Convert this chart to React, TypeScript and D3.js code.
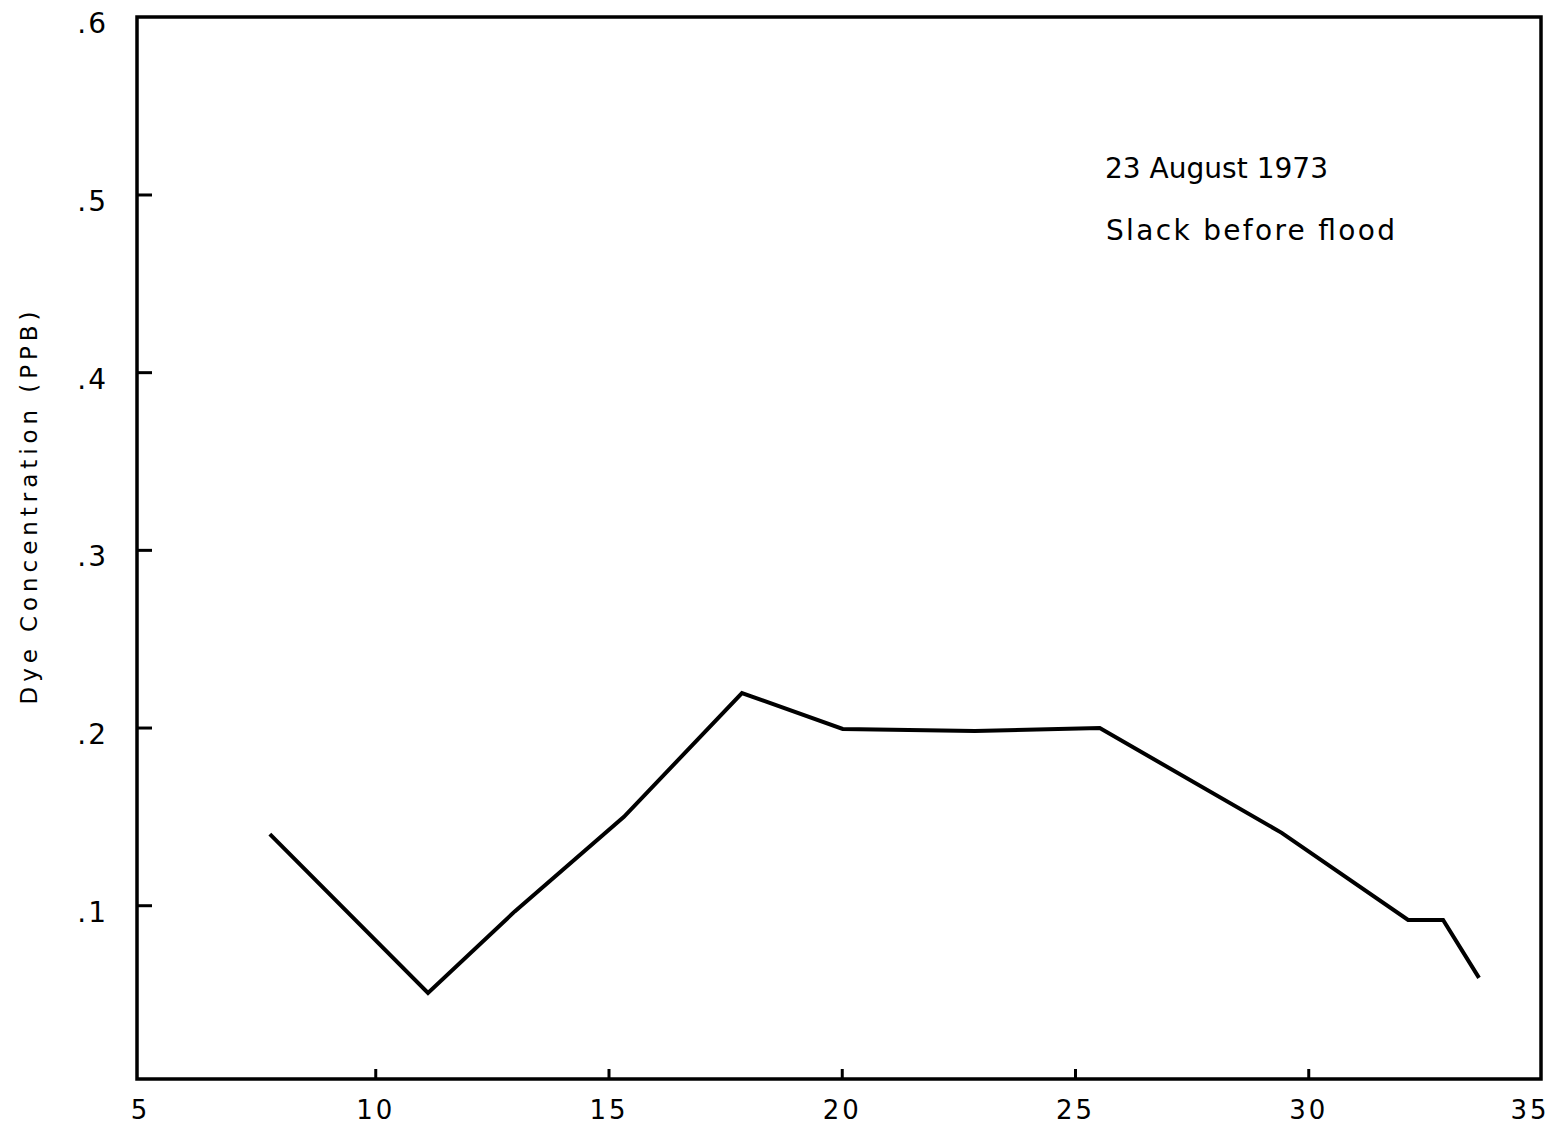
import React from "react";
import * as d3 from "d3";

const distance: number[] = [7.73, 11.12, 12.98, 15.32, 17.85, 20.01, 22.84, 25.52, 29.42, 32.13, 32.88, 33.65];
const concentration: number[] = [0.1403, 0.0509, 0.0968, 0.150, 0.2197, 0.1995, 0.1983, 0.200, 0.141, 0.092, 0.092, 0.0594];
const xTicks: number[] = [5, 10, 15, 20, 25, 30, 35];
const yTicks: number[] = [0.1, 0.2, 0.3, 0.4, 0.5, 0.6];
const yTickLabels: string[] = [".1", ".2", ".3", ".4", ".5", ".6"];
const annotations: string[] = ["23 August 1973", "Slack before flood"];
const yLabel = "Dye Concentration (PPB)";

const W = 1553;
const H = 1127;

export default function App() {
  const x = d3.scaleLinear().domain([5, 35]).range([142.5, 1542]);
  const y = d3.scaleLinear().domain([0, 0.6]).range([1083.4, 17.3]);
  const boxL = 137, boxR = 1541, boxT = 17, boxB = 1079;
  const data = distance.map((d, i) => [d, concentration[i]] as [number, number]);
  const line = d3.line<[number, number]>().x(d => x(d[0])).y(d => y(d[1]));
  const font = "'DejaVu Sans', sans-serif";
  return (
    <svg width={W} height={H} viewBox={`0 0 ${W} ${H}`} style={{ position: "absolute", left: 0, top: 0, background: "#fff" }}>
      <rect x={0} y={0} width={W} height={H} fill="#fff" />
      <rect x={boxL} y={boxT} width={boxR - boxL} height={boxB - boxT} fill="none" stroke="#000" strokeWidth={3.5} />
      {yTicks.slice(0, 5).map(t => (
        <line key={"yt" + t} x1={boxL} x2={boxL + 15} y1={y(t)} y2={y(t)} stroke="#000" strokeWidth={3} />
      ))}
      {xTicks.slice(1, 6).map(t => (
        <line key={"xt" + t} x1={x(t)} x2={x(t)} y1={boxB} y2={boxB - 10} stroke="#000" strokeWidth={3} />
      ))}
      {yTicks.map((t, i) => (
        <text key={"yl" + t} x={108} y={y(t) + 16} textAnchor="end" fontFamily={font} fontSize={28} fill="#000" letterSpacing={2}>
          {yTickLabels[i]}
        </text>
      ))}
      {xTicks.map(t => (
        <text key={"xl" + t} x={t === 35 ? x(t) - 12 : t === 5 ? x(t) - 2 : x(t)} y={1119} textAnchor="middle" fontFamily={font} fontSize={26} fill="#000" letterSpacing={3}>
          {t}
        </text>
      ))}
      <text x={1105} y={178} fontFamily={font} fontSize={28} fill="#000" textLength={223} lengthAdjust="spacing">{annotations[0]}</text>
      <text x={1106} y={240} fontFamily={font} fontSize={28} fill="#000" textLength={289} lengthAdjust="spacing">{annotations[1]}</text>
      <text transform={`translate(37, 508) rotate(-90)`} textAnchor="middle" fontFamily={font} fontSize={23} fill="#000" textLength={393} lengthAdjust="spacing">
        {yLabel}
      </text>
      <path d={line(data) || ""} fill="none" stroke="#000" strokeWidth={4} strokeLinejoin="miter" />
    </svg>
  );
}
